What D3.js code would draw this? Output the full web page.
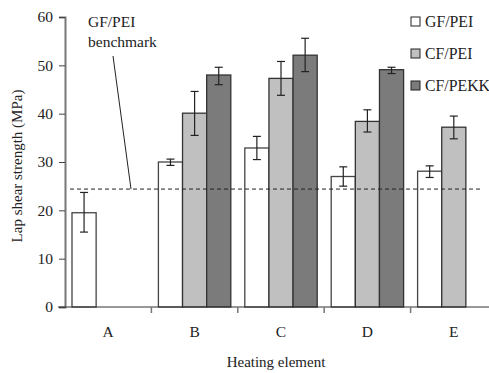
<!DOCTYPE html>
<html>
<head>
<meta charset="utf-8">
<style>
  body { margin: 0; background: #fff; }
  svg text { font-family: "Liberation Serif", "Times New Roman", serif; fill: #222; }
</style>
</head>
<body>
<div id="chart"></div>
<script src="https://d3js.org/d3.v7.min.js"></script>
<script>
  const categories = ["A", "B", "C", "D", "E"];
  const seriesNames = ["GF/PEI", "CF/PEI", "CF/PEKK"];
  const seriesColors = ["#ffffff", "#c0c0c0", "#7b7b7b"];
  // mean, error low, error high (null = no bar)
  const gfPei = [[19.5, 15.5, 23.7], [30.0, 29.3, 30.6], [32.9, 30.5, 35.3], [27.0, 25.0, 29.0], [28.1, 26.8, 29.2]];
  const cfPei = [null, [40.1, 35.5, 44.6], [47.3, 43.8, 50.8], [38.4, 36.2, 40.8], [37.2, 34.8, 39.5]];
  const cfPekk = [null, [48.0, 46.0, 49.6], [52.1, 48.7, 55.6], [49.1, 48.3, 49.6], null];
  const yTicks = [0, 10, 20, 30, 40, 50, 60];
  const benchmark = 24.4;

  const width = 489, height = 373;
  const margin = { left: 65, top: 17, bottom: 66 };
  const plotBottom = height - margin.bottom;

  const svg = d3.select("#chart").append("svg")
    .attr("width", width).attr("height", height);

  const x = d3.scaleBand().domain(categories).range([margin.left, margin.left + 5 * 86.4]);
  const xs = d3.scaleBand().domain(seriesNames).range([7, 86.4 - 7]);
  const y = d3.scaleLinear().domain([0, 60]).range([plotBottom, margin.top]);

  const allSeries = [gfPei, cfPei, cfPekk];

  // bars
  allSeries.forEach((data, si) => {
    const g = svg.append("g");
    data.forEach((d, ci) => {
      if (!d) return;
      const bx = x(categories[ci]) + xs(seriesNames[si]);
      g.append("rect")
        .attr("x", bx)
        .attr("y", y(d[0]))
        .attr("width", xs.bandwidth())
        .attr("height", y(0) - y(d[0]))
        .attr("fill", seriesColors[si])
        .attr("stroke", si === 0 ? "#444" : "#333")
        .attr("stroke-width", 1.3);
    });
  });

  // benchmark line
  svg.append("line")
    .attr("x1", 70).attr("x2", 481)
    .attr("y1", y(benchmark)).attr("y2", y(benchmark))
    .attr("stroke", "#222").attr("stroke-width", 1)
    .attr("stroke-dasharray", "4,3");

  // error bars
  allSeries.forEach((data, si) => {
    const g = svg.append("g");
    data.forEach((d, ci) => {
      if (!d) return;
      const cx = x(categories[ci]) + xs(seriesNames[si]) + xs.bandwidth() / 2;
      g.append("line").attr("x1", cx).attr("x2", cx)
        .attr("y1", y(d[1])).attr("y2", y(d[2]))
        .attr("stroke", "#222").attr("stroke-width", 1.2);
      [d[1], d[2]].forEach(v => {
        g.append("line").attr("x1", cx - 4).attr("x2", cx + 4)
          .attr("y1", y(v)).attr("y2", y(v))
          .attr("stroke", "#222").attr("stroke-width", 1.2);
      });
    });
  });

  // y axis
  const yAxis = svg.append("g")
    .attr("transform", `translate(${margin.left},0)`)
    .call(d3.axisLeft(y).tickValues(yTicks).tickSize(6).tickPadding(6));
  yAxis.select(".domain").attr("stroke", "#777").attr("stroke-width", 2);
  yAxis.selectAll(".tick line").attr("stroke", "#444");
  yAxis.selectAll("text").attr("font-size", 15.5).attr("fill", "#222")
    .style("font-family", "Liberation Serif, serif");

  // x axis
  const xAxis = svg.append("g")
    .attr("transform", `translate(0,${plotBottom})`)
    .call(d3.axisBottom(x).tickSize(0).tickPadding(19));
  xAxis.select(".domain").remove();
  xAxis.append("line").attr("x1", 58).attr("x2", width)
    .attr("stroke", "#333").attr("stroke-width", 1.2);
  xAxis.selectAll(".sep").data(categories.slice(1))
    .enter().append("line").attr("class", "sep")
    .attr("x1", d => x(d)).attr("x2", d => x(d))
    .attr("y1", 0).attr("y2", 6)
    .attr("stroke", "#777").attr("stroke-width", 1.5);
  xAxis.selectAll("text").attr("font-size", 15.5).attr("fill", "#222")
    .style("font-family", "Liberation Serif, serif");

  // axis titles
  svg.append("text")
    .attr("transform", `translate(22,${(margin.top + plotBottom) / 2 + 4}) rotate(-90)`)
    .attr("text-anchor", "middle").attr("font-size", 15)
    .text("Lap shear strength (MPa)");
  svg.append("text")
    .attr("x", 276).attr("y", 367)
    .attr("text-anchor", "middle").attr("font-size", 15)
    .text("Heating element");

  // benchmark annotation
  svg.append("text").attr("x", 88).attr("y", 27).attr("font-size", 15.5).text("GF/PEI");
  svg.append("text").attr("x", 88).attr("y", 47).attr("font-size", 15.5).text("benchmark");
  svg.append("line")
    .attr("x1", 113).attr("y1", 56).attr("x2", 131).attr("y2", y(benchmark))
    .attr("stroke", "#222").attr("stroke-width", 1);

  // legend
  const legend = svg.append("g");
  seriesNames.forEach((name, i) => {
    const ly = 22 + i * 32;
    legend.append("rect")
      .attr("x", 411).attr("y", ly - 5).attr("width", 9).attr("height", 9)
      .attr("fill", seriesColors[i]).attr("stroke", "#222").attr("stroke-width", 1);
    legend.append("text")
      .attr("x", 425).attr("y", ly + 5).attr("font-size", 15.8).text(name);
  });
</script>
</body>
</html>
